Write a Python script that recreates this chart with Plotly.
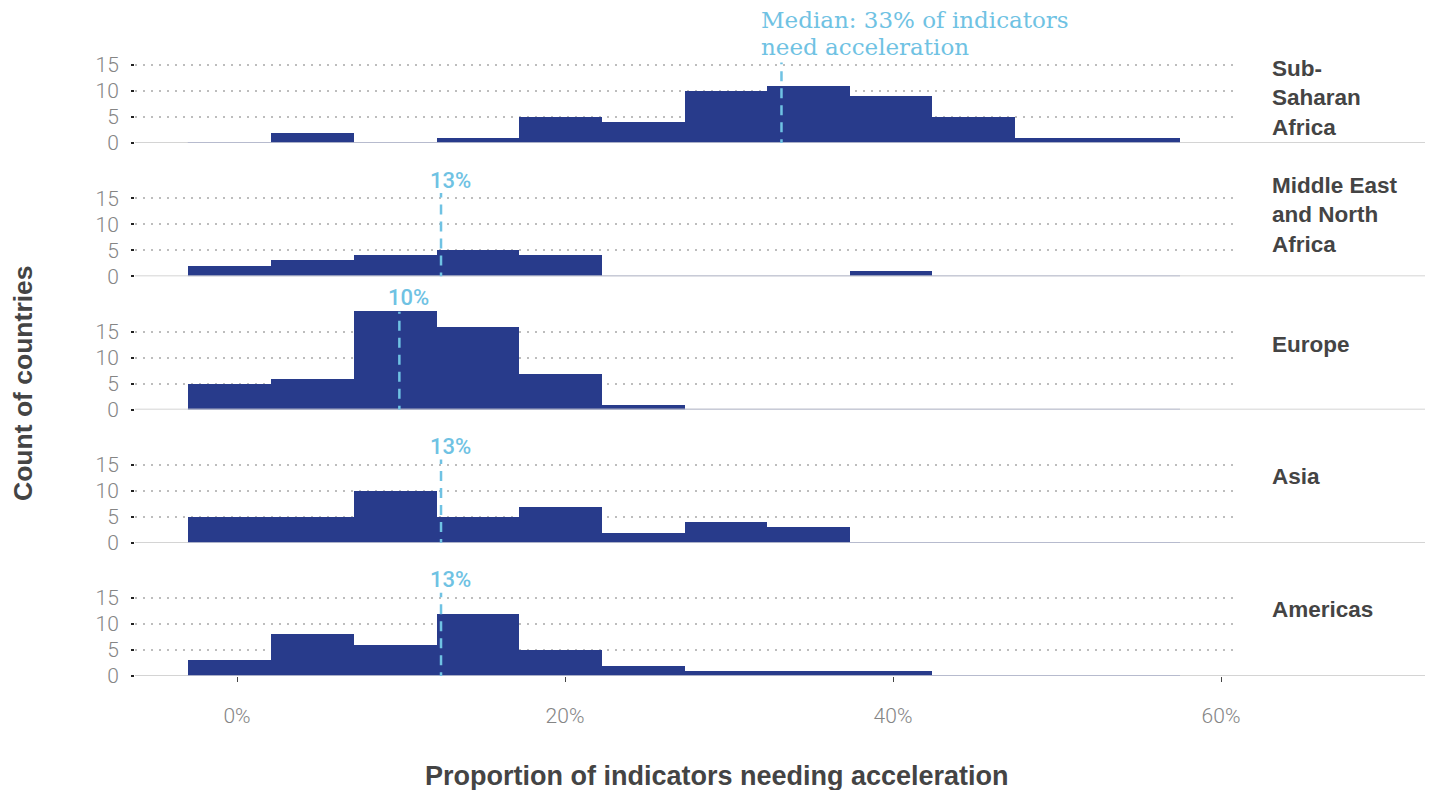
import plotly.graph_objects as go

# ---------------- data ----------------
bin_edges_pct = [-3.0, 2.07, 7.13, 12.17, 17.2, 22.25, 27.3, 32.3, 37.35, 42.4, 47.45, 52.5, 57.5]
regions = ["Sub-Saharan Africa", "Middle East and North Africa", "Europe", "Asia", "Americas"]
region_labels = ["Sub-<br>Saharan<br>Africa", "Middle East<br>and North<br>Africa", "Europe", "Asia", "Americas"]
counts_ssa = [0, 2, 0, 1, 5, 4, 10, 11, 9, 5, 1, 1]
counts_mena = [2, 3, 4, 5, 4, 0, 0, 0, 1, 0, 0, 0]
counts_europe = [5, 6, 19, 16, 7, 1, 0, 0, 0, 0, 0, 0]
counts_asia = [5, 5, 10, 5, 7, 2, 4, 3, 0, 0, 0, 0]
counts_americas = [3, 8, 6, 12, 5, 2, 1, 1, 1, 0, 0, 0]
medians = [0.332, 0.1244, 0.099, 0.1244, 0.1244]
median_labels = [["Median: 33% of indicators", "need acceleration"], ["13%"], ["10%"], ["13%"], ["13%"]]
x_tick_vals = [0, 0.2, 0.4, 0.6]
y_tick_vals = [0, 5, 10, 15]

all_counts = [counts_ssa, counts_mena, counts_europe, counts_asia, counts_americas]

# ---------------- style ----------------
BAR = "#283B8B"
MED = "#6FC2E3"
GRID = "#bdbdbd"
TICKC = "#858585"
TITLEC = "#444444"

OFF = 8  # page body margin
W, H = 1433 - OFF, 790 - OFF
L, R = 135 - OFF, 1233 - OFF
TOP, BOT = 13 - OFF, 676 - OFF
PH = BOT - TOP
PW = R - L
panel_h = 130
step = 133.25
YMAX = 25
PX_PER_PCT = 16.4
ZERO_PX = 237 - OFF
PX_PER_UNIT = panel_h / YMAX


def px_x(p):
    return (p - OFF - L) / PW


edges = [e / 100 for e in bin_edges_pct]
centers = [(edges[i] + edges[i + 1]) / 2 for i in range(len(edges) - 1)]
widths = [edges[i + 1] - edges[i] for i in range(len(edges) - 1)]

fig = go.Figure()
shapes = []
annotations = []

n = len(regions)
for i in range(n):
    k = n - 1 - i  # position from bottom
    yname = "y" if k == 0 else f"y{k + 1}"
    axname = "yaxis" if k == 0 else f"yaxis{k + 1}"
    d0 = step * k / PH
    d1 = (step * k + panel_h) / PH
    fig.add_trace(go.Bar(
        x=centers, y=all_counts[i], width=widths,
        marker=dict(color=BAR, line=dict(width=0)),
        xaxis="x", yaxis=yname, showlegend=False, name=regions[i],
        hovertemplate="%{y}<extra></extra>",
    ))
    fig.layout[axname] = dict(
        domain=[d0, min(d1, 1.0)], range=[0, YMAX], anchor="x",
        tickvals=y_tick_vals, showgrid=True, gridcolor=GRID, griddash="2px,6px",
        gridwidth=2, zeroline=False, showline=False,
        ticks="outside", ticklen=3, tickcolor="#222", tickwidth=1.5,
        ticklabelstandoff=8,
        tickfont=dict(family="Roboto", size=21, color=TICKC, weight=300),
        fixedrange=True,
    )
    zero_abs = 676 - step * k
    # baseline across full width
    shapes.append(dict(type="line", xref="paper", yref=yname, x0=0, x1=px_x(1427),
                       y0=0, y1=0, line=dict(color="#c6c6c6", width=1.5), layer="above"))
    shapes.append(dict(type="line", xref="x", yref=yname, x0=edges[0], x1=edges[-1],
                       y0=0, y1=0, line=dict(color="#aeb3cc", width=1.5), layer="above"))
    # median line
    top = [15.5, 16, 18.8, 16, 16][i]
    shapes.append(dict(type="line", xref="x", yref=yname, x0=medians[i], x1=medians[i],
                       y0=-1.2, y1=top, line=dict(color=MED, width=2.5, dash="10px,7px"), layer="above"))
    # median labels
    if i == 0:
        for j, (line_txt, y_abs) in enumerate(zip(median_labels[i], [20, 47])):
            annotations.append(dict(x=medians[i] - 0.0135, y=(zero_abs - y_abs) / PX_PER_UNIT,
                                    xref="x", yref=yname,
                                    text=line_txt, showarrow=False, xanchor="left",
                                    yanchor="middle", align="left",
                                    font=dict(family="DejaVu Serif", size=23, color=MED)))
    else:
        ly = [0, 18.4, 21.6, 18.5, 18.5][i]
        annotations.append(dict(x=medians[i] + 0.0055, y=ly, xref="x", yref=yname,
                                text=median_labels[i][0], showarrow=False, xanchor="center",
                                yanchor="middle",
                                font=dict(family="Roboto", size=22, color=MED, weight=500)))
    # region labels
    ry = [8.7, 11.7, 12.5, 12.7, 12.7][i]
    annotations.append(dict(x=px_x(1270), y=ry, xref="paper", yref=yname,
                            text="<b>" + region_labels[i] + "</b>", showarrow=False,
                            xanchor="left", yanchor="middle", align="left",
                            font=dict(family="Liberation Sans", size=22.5, color=TITLEC)))

# axis titles
annotations.append(dict(x=px_x(717), y=-(776 - OFF - BOT) / PH, xref="paper", yref="paper",
                        text="<b>Proportion of indicators needing acceleration</b>", showarrow=False,
                        xanchor="center", yanchor="middle",
                        font=dict(family="Liberation Sans", size=27, color=TITLEC)))
annotations.append(dict(x=px_x(23), y=(BOT - (383 - OFF)) / PH, xref="paper", yref="paper",
                        text="<b>Count of countries</b>", showarrow=False, textangle=-90,
                        xanchor="center", yanchor="middle",
                        font=dict(family="Liberation Sans", size=26.5, color=TITLEC)))

x_lo = (L - ZERO_PX) / PX_PER_PCT / 100
x_hi = (R - ZERO_PX) / PX_PER_PCT / 100

fig.update_layout(
    width=W, height=H,
    margin=dict(l=L, r=W - R, t=TOP, b=H - BOT),
    paper_bgcolor="white", plot_bgcolor="white",
    bargap=0, barmode="overlay",
    xaxis=dict(range=[x_lo, x_hi], tickvals=x_tick_vals, tickformat=".0%",
               showgrid=False, zeroline=False, showline=False,
               ticks="outside", ticklen=5, tickcolor="#444", tickwidth=1,
               ticklabelstandoff=16,
               tickfont=dict(family="Roboto", size=21, color=TICKC, weight=300),
               anchor="y", fixedrange=True),
    shapes=shapes, annotations=annotations,
)

fig.write_html("out.html")
